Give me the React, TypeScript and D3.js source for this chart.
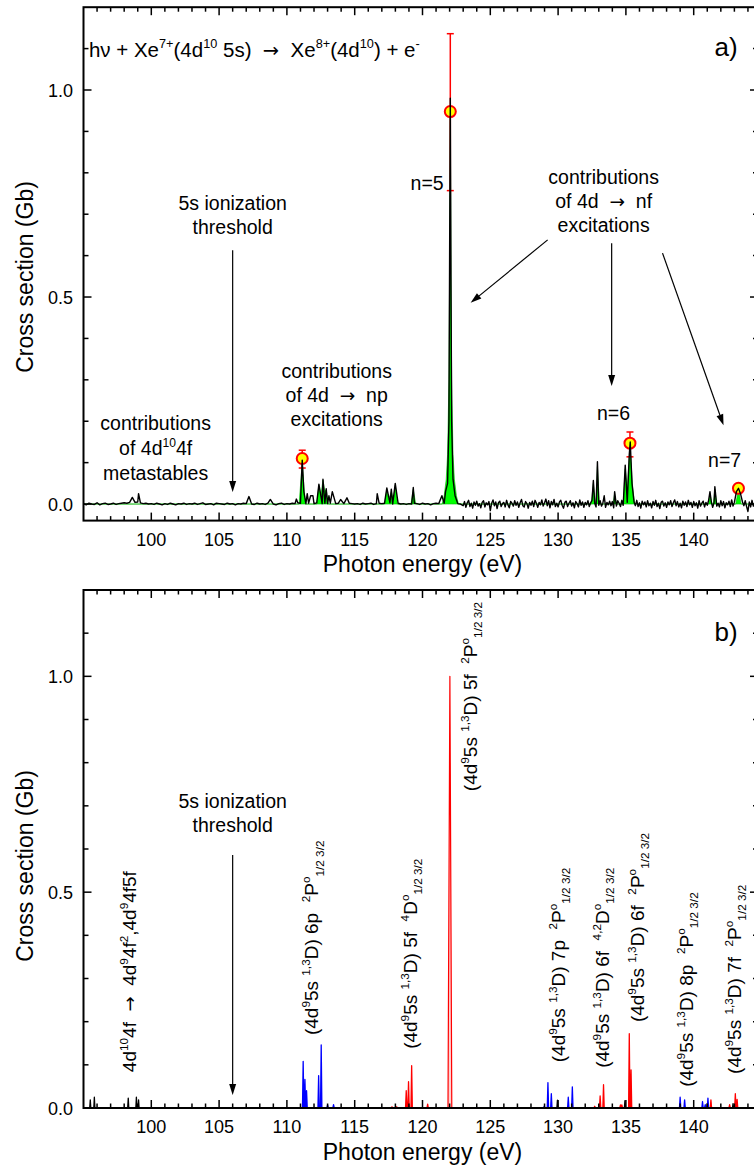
import React from "react";
import * as d3 from "d3";

const FONT = "'Liberation Sans', Arial, Helvetica, sans-serif";
const ARROW_FONT = "'DejaVu Sans', sans-serif";

// ---------------- ticks ----------------
const xMajorTickValues = [100, 105, 110, 115, 120, 125, 130, 135, 140];
const xTickLabels = ["100", "105", "110", "115", "120", "125", "130", "135", "140"];
const yMajorTickValues = [0, 0.5, 1.0];
const yTickLabels = ["0.0", "0.5", "1.0"];

// ---------------- panel a: measured spectrum ----------------
// baseline noise (mGb), 95.0 eV .. step 0.2 eV
const noiseLowStart = 95.0;
const noiseLowStep = 0.2;
const noiseLow = [
  1, -2, 2, 0, -1, 3, -2, 1, 2, -1,
  0, 2, -1, 1, 2, 3, 2, 4, 6, 4,
  5, 3, 1, 2, 0, 1, -1, 2, 0, -2,
  1, -1, 2, 0, -2, 1, 0, 2, -1, 1,
  0, 2, -1, 1, 3, -1, 0, 1, -2, 2,
  1, 0, -1, 2, 0, 1, -2, 1, 0, 2,
  1, 3, 0, -1, 2, 0, 1, -1, 2, 1,
  0, -2, 1, 2, -1, 1, 0, 2, 1, 3,
  2, 3, 1, 2, 0, 1, 3, 2, 1, 2,
  1, 2, 0, 1, 2, -1, 1, 0, 2, 1,
  0, 1, -1, 2, 0, 1, 2, -1, 1, 2,
  1, 2, 1, 3, 0, 1, 2, 0, 1, -1,
  1, 0, 2, 1, -1, 2, 0, 1, -2, 1,
  2, 1, 3, 2, 4, 5, 3, 2, 1, 0,
];
// baseline noise (mGb), 123.0 eV .. step 0.1 eV
const noiseHighStart = 123.0;
const noiseHighStep = 0.1;
const noiseHigh = [
  -4, 6, -8, 3, 9, -6, 2, -10, 5, -3,
  7, -5, 1, -9, 4, 8, -7, 3, -2, 6,
  -16, 2, 10, -4, 5, -11, 3, 7, -6, 1,
  4, -7, 9, -2, -9, 6, 2, -5, 8, -3,
  5, -8, 3, 11, -4, -7, 6, 1, -10, 4,
  -3, 7, -6, 9, 2, -8, 4, -2, 10, -5,
  3, 12, -4, 8, -9, 6, -2, 11, -6, 2,
  -7, 5, 9, -3, -10, 4, 7, -6, 2, 8,
  -5, 3, -9, 6, 1, -7, 10, -3, 5, -8,
  4, -2, 8, -6, 3, 9, -4, 2, -7, 6,
  -3, 8, -5, 2, 10, -8, 4, -2, 7, -4,
  6, -9, 3, -5, 8, 2, -6, 9, -3, 5,
  -7, 4, 2, -3, 6, -8, 5, -4, 9, -6,
  3, -10, 7, -2, 5, -7, 8, -4, 2, -9,
  6, -3, 9, -6, 2, -11, 4, 7, -5, 3,
  -8, 5, -2, 8, -6, 3, 10, -4, 6, -7,
  2, -9, 7, -3, 5, -6, 9, -2, 4, -8,
  6, -4, 3, -10, 8, -5, 2, 7, -7, 4,
  -3, 9, -6, 5, -8, 3, 11, -5, 2, -7,
  8, -4, 6, -9, 3, -2, 7, -6, 10, -5,
  4, -8, 2, 6, -3, -12, 5, -4, 8, -6,
  -18, 5, -7, 9, -5, 2, -9, 6, -4, 3,
];
// resonance peaks seen in the measured spectrum [eV, Gb]
const peaksA: [number, number][] = [
  [98.6, 0.016], [99.06, 0.025], [107.2, 0.018], [108.78, 0.011], [110.7, 0.012],
  [111.13, 0.106], [111.25, 0.03], [111.5, 0.025], [111.75, 0.02], [111.92, 0.02],
  [112.36, 0.048], [112.66, 0.06], [112.9, 0.037], [113.1, 0.02], [113.35, 0.03],
  [113.96, 0.011], [114.43, 0.015], [116.66, 0.025], [117.37, 0.039], [117.7, 0.036],
  [117.99, 0.05], [119.32, 0.04], [121.43, 0.02], [121.7, 0.03],
  [121.85, 0.05], [121.95, 0.2], [122.0, 0.6], [122.05, 0.98], [122.1, 0.55],
  [122.15, 0.2], [122.25, 0.06], [122.4, 0.02],
  [132.6, 0.057], [132.9, 0.102], [133.4, 0.02], [134.17, 0.03], [134.95, 0.094],
  [135.25, 0.12], [135.32, 0.15], [135.45, 0.05], [141.2, 0.03], [141.56, 0.042],
  [143.15, 0.03], [143.3, 0.038], [143.45, 0.025],
];
// green filled contributions [eV, Gb]
const greenA: [number, number][] = [
  [95, 0], [110.9, 0], [111.13, 0.1], [111.35, 0],
  [112.2, 0], [112.36, 0.045], [112.5, 0.02], [112.66, 0.058], [112.8, 0.03], [112.9, 0.035], [113.05, 0],
  [117.2, 0], [117.37, 0.035], [117.5, 0.01], [117.7, 0.03], [117.85, 0.01], [117.99, 0.045], [118.15, 0],
  [119.15, 0], [119.32, 0.035], [119.5, 0],
  [121.45, 0], [121.6, 0.02], [121.75, 0.06], [121.85, 0.12], [121.95, 0.3], [122.0, 0.55], [122.05, 0.95],
  [122.1, 0.55], [122.15, 0.3], [122.25, 0.12], [122.35, 0.06], [122.5, 0.02], [122.65, 0],
  [132.45, 0], [132.6, 0.05], [132.75, 0], [132.8, 0], [132.9, 0.09], [133.05, 0],
  [134.05, 0], [134.17, 0.025], [134.3, 0],
  [134.8, 0], [134.95, 0.085], [135.1, 0.03], [135.3, 0.14], [135.5, 0.04], [135.65, 0],
  [141.1, 0], [141.2, 0.025], [141.35, 0], [141.45, 0], [141.56, 0.035], [141.7, 0],
  [143.1, 0], [143.3, 0.035], [143.5, 0], [145, 0],
];
// absolute cross-section points with error bars
const markerE = [111.13, 122.05, 135.3, 143.3];
const markerV = [0.11, 0.948, 0.147, 0.038];
const markerLo = [0.087, 0.757, 0.114, 0.033];
const markerHi = [0.13, 1.136, 0.174, 0.043];

// ---------------- panel b: theory ----------------
const sticksBlack: [number, number][] = [
  [95.5, 0.019], [95.8, 0.025], [98.3, 0.023], [98.9, 0.025], [99.06, 0.019],
  [118.9, 0.006], [129.95, 0.018], [134.93, 0.017], [141.0, 0.01], [142.9, 0.01],
];
const sticksBlue: [number, number][] = [
  [111.2, 0.108], [111.33, 0.066], [111.45, 0.04], [112.34, 0.075], [112.53, 0.146],
  [113.0, 0.007], [113.44, 0.008], [128.98, 0.004], [129.25, 0.059], [129.5, 0.033],
  [130.75, 0.025], [131.05, 0.049], [139.0, 0.025], [139.33, 0.019], [140.65, 0.015],
  [140.85, 0.008], [141.05, 0.023],
];
const sticksRed: [number, number][] = [
  [117.75, 0.003], [118.1, 0.003], [118.8, 0.04], [118.97, 0.061], [119.2, 0.098],
  [120.38, 0.009], [132.7, 0.004], [133.1, 0.028], [133.35, 0.054], [134.6, 0.007],
  [134.7, 0.007], [135.25, 0.172], [135.38, 0.088], [141.27, 0.019], [142.65, 0.008],
  [143.07, 0.033], [143.2, 0.02],
];
const sticksRedBroad: [number, number][] = [[122.02, 1.0]];

// ---------------- text ----------------
type Part = [string, number];
const formulaA: Part[] = [
  ["h\u03bd + Xe", 0], ["7+", 1], ["(4d", 0], ["10", 1], [" 5s)  \u2192  Xe", 0], ["8+", 1],
  ["(4d", 0], ["10", 1], [") + e", 0], ["-", 1],
];
const lbl4f: Part[] = [["4d", 0], ["10", 1], ["4f  \u2192  4d", 0], ["9", 1], ["4f", 0], ["2", 1], [",4d", 0], ["9", 1], ["4f5f", 0]];
const mk = (orb: string, mult: string, term: string): Part[] => [
  ["(4d", 0], ["9", 1], ["5s ", 0], ["1,3", 1], ["D) " + orb + "  ", 0], [mult, 1], [term, 0], ["o", 1], ["1/2 3/2", -1],
];
const rotLabels: { parts: Part[]; e: number; v: number }[] = [
  { parts: lbl4f, e: 98.85, v: 0.083 },
  { parts: mk("6p", "2", "P"), e: 112.3, v: 0.169 },
  { parts: mk("5f", "4", "D"), e: 119.56, v: 0.137 },
  { parts: mk("5f", "2", "P"), e: 123.99, v: 0.734 },
  { parts: mk("7p", "2", "P"), e: 130.48, v: 0.106 },
  { parts: mk("6f", "4,2", "D"), e: 133.73, v: 0.093 },
  { parts: mk("6f", "2", "P"), e: 136.31, v: 0.199 },
  { parts: mk("8p", "2", "P"), e: 139.92, v: 0.049 },
  { parts: mk("7f", "2", "P"), e: 143.46, v: 0.079 },
];

// ---------------- scales ----------------
const x = d3.scaleLinear().domain([95, 145]).range([83.5, 761.5]);
const yA = d3.scaleLinear().domain([-0.04, 1.2]).range([520.6, 7.2]);
const yB = d3.scaleLinear().domain([0, 1.2]).range([1108, 590]);
const FRAME_RIGHT = 758;

function splitArrow(t: string, key: string, firstProps: any, size: number) {
  const pieces = t.split("\u2192");
  const out: any[] = [];
  pieces.forEach((p, j) => {
    if (j > 0) {
      out.push(
        <tspan key={key + "a" + j} fontFamily={ARROW_FONT} fontSize={size * 0.95}>
          {"\u2192"}
        </tspan>
      );
    }
    if (p.length) {
      out.push(
        <tspan key={key + "p" + j} {...(j === 0 ? firstProps : {})} fontSize={firstProps.fontSize}>
          {p}
        </tspan>
      );
    }
  });
  return out;
}

function Rich({ parts, size, px, py, rotate, anchor }: { parts: Part[]; size: number; px: number; py: number; rotate?: boolean; anchor?: string }) {
  let cur = 0;
  const SUP = -0.42 * size;
  const SUB = 0.3 * size;
  const small = size * 0.62;
  return (
    <text
      transform={`translate(${px},${py})${rotate ? " rotate(-90)" : ""}`}
      fontSize={size}
      fontFamily={FONT}
      textAnchor={anchor || "start"}
      style={{ whiteSpace: "pre" }}
      fill="#000"
    >
      {parts.map(([t, l], i) => {
        const target = l === 1 ? SUP : l === -1 ? SUB : 0;
        const dy = target - cur;
        cur = target;
        return splitArrow(t, "k" + i, { dy, fontSize: l ? small : size }, size);
      })}
    </text>
  );
}

function Arrow({ x1, y1, x2, y2 }: { x1: number; y1: number; x2: number; y2: number }) {
  const ang = Math.atan2(y2 - y1, x2 - x1);
  const L = 11, Wd = 3.5;
  const bx = x2 - L * Math.cos(ang), by = y2 - L * Math.sin(ang);
  const p1 = [bx + Wd * Math.sin(ang), by - Wd * Math.cos(ang)];
  const p2 = [bx - Wd * Math.sin(ang), by + Wd * Math.cos(ang)];
  return (
    <g>
      <line x1={x1} y1={y1} x2={bx} y2={by} stroke="#000" strokeWidth={1.2} />
      <polygon points={`${x2},${y2} ${p1[0]},${p1[1]} ${p2[0]},${p2[1]}`} fill="#000" />
    </g>
  );
}

function Frame({ y }: { y: d3.ScaleLinear<number, number> }) {
  const [yb, yt] = y.range();
  const left = x(95);
  const xTicks = d3.range(95, 146, 1).filter((e) => x(e) < FRAME_RIGHT - 1 && e > 95);
  const yTicks = d3.range(0, 12.5, 1).map((k) => k / 10).filter((v) => y(v) < yb - 1 && y(v) > yt + 1);
  return (
    <g stroke="#000" fill="none">
      <rect x={left} y={yt} width={FRAME_RIGHT - left} height={yb - yt} strokeWidth={2} />
      {xTicks.map((e) => {
        const major = e % 5 === 0;
        const len = major ? 8 : 4.5;
        return (
          <g key={e}>
            <line x1={x(e)} x2={x(e)} y1={yb} y2={yb - len} strokeWidth={1.5} />
            <line x1={x(e)} x2={x(e)} y1={yt} y2={yt + len} strokeWidth={1.5} />
          </g>
        );
      })}
      {yTicks.map((v) => {
        const major = Math.abs(v * 2 - Math.round(v * 2)) < 1e-6;
        const len = major ? 8 : 5;
        return (
          <g key={v}>
            <line x1={left} x2={left + len} y1={y(v)} y2={y(v)} strokeWidth={1.5} />
            <line x1={FRAME_RIGHT} x2={FRAME_RIGHT - len} y1={y(v)} y2={y(v)} strokeWidth={1.5} />
          </g>
        );
      })}
    </g>
  );
}

function AxisText({ y, titleY, yTitleCenter }: { y: d3.ScaleLinear<number, number>; titleY: number; yTitleCenter: number }) {
  const yb = y.range()[0];
  return (
    <g fontFamily={FONT} fill="#000">
      {xMajorTickValues.map((e, i) => (
        <text key={e} x={x(e)} y={yb + 25} fontSize={18} textAnchor="middle">
          {xTickLabels[i]}
        </text>
      ))}
      {yMajorTickValues.map((v, i) => (
        <text key={v} x={73} y={y(v) + 6.5} fontSize={18} textAnchor="end">
          {yTickLabels[i]}
        </text>
      ))}
      <text x={(x(95) + x(145)) / 2} y={titleY} fontSize={23} textAnchor="middle">
        Photon energy (eV)
      </text>
      <text transform={`translate(33,${yTitleCenter}) rotate(-90)`} fontSize={23} textAnchor="middle">
        Cross section (Gb)
      </text>
    </g>
  );
}

function stickPath(data: [number, number][], y: d3.ScaleLinear<number, number>, hw: number) {
  return data
    .map(([e, h]) => `M${x(e - hw)},${y(0)}L${x(e)},${y(h)}L${x(e + hw)},${y(0)}Z`)
    .join("");
}

export default function App() {
  const lowPts: [number, number][] = noiseLow.map((v, i) => [noiseLowStart + i * noiseLowStep, v / 1000]);
  const highPts: [number, number][] = noiseHigh.map((v, i) => [noiseHighStart + i * noiseHighStep, v / 1000]);
  const basePts = [...lowPts, ...highPts].filter(([e]) => !peaksA.some(([pe]) => Math.abs(pe - e) < 0.06));
  const linePts = [...basePts, ...peaksA].sort((a, b) => a[0] - b[0]);

  const line = d3.line<[number, number]>().x((d) => x(d[0])).y((d) => yA(d[1]));
  const area = d3.area<[number, number]>().x((d) => x(d[0])).y0(yA(0)).y1((d) => yA(d[1]));

  return (
    <svg width={754} height={1171} style={{ position: "absolute", left: 0, top: 0, background: "#fff" }}>
      <rect width={754} height={1171} fill="#fff" />
      {/* ================= panel a ================= */}
      <path d={area(greenA) || ""} fill="#00ff00" stroke="#00b000" strokeWidth={0.6} />
      {markerE.map((e, i) => (
        <g key={"eb" + i} stroke="#ff0000" strokeWidth={1.5}>
          <line x1={x(e)} x2={x(e)} y1={yA(markerLo[i])} y2={yA(markerHi[i])} />
          <line x1={x(e) - 3.5} x2={x(e) + 3.5} y1={yA(markerLo[i])} y2={yA(markerLo[i])} />
          <line x1={x(e) - 3.5} x2={x(e) + 3.5} y1={yA(markerHi[i])} y2={yA(markerHi[i])} />
        </g>
      ))}
      {markerE.map((e, i) => (
        <circle key={"mk" + i} cx={x(e)} cy={yA(markerV[i])} r={5.5} fill="#ffff00" stroke="#ff0000" strokeWidth={2} />
      ))}
      <path d={line(linePts) || ""} fill="none" stroke="#000" strokeWidth={1.4} strokeLinejoin="round" />
      <Frame y={yA} />
      <AxisText y={yA} titleY={572} yTitleCenter={277} />

      <g fontFamily={FONT} fontSize={19.5} fill="#000">
        <Rich parts={formulaA} size={20.5} px={x(95.4)} py={yA(1.08)} />
        <text x={x(143.24)} y={yA(1.082)} fontSize={26} textAnchor="end">a)</text>
        <text x={x(121.56)} y={yA(0.758)} textAnchor="end">n=5</text>
        <text x={x(133.36)} y={yA(0.773)} textAnchor="middle">contributions</text>
        <Rich parts={[["of 4d  \u2192  nf", 0]]} size={19.5} px={x(133.36)} py={yA(0.715)} anchor="middle" />
        <text x={x(133.36)} y={yA(0.657)} textAnchor="middle">excitations</text>
        <text x={x(106)} y={yA(0.71)} textAnchor="middle">5s ionization</text>
        <text x={x(106)} y={yA(0.652)} textAnchor="middle">threshold</text>
        <text x={x(113.67)} y={yA(0.304)} textAnchor="middle">contributions</text>
        <Rich parts={[["of 4d  \u2192  np", 0]]} size={19.5} px={x(113.67)} py={yA(0.246)} anchor="middle" />
        <text x={x(113.67)} y={yA(0.188)} textAnchor="middle">excitations</text>
        <text x={x(100.32)} y={yA(0.179)} textAnchor="middle">contributions</text>
        <Rich parts={[["of 4d", 0], ["10", 1], ["4f", 0]]} size={19.5} px={x(100.32)} py={yA(0.118)} anchor="middle" />
        <text x={x(100.32)} y={yA(0.058)} textAnchor="middle">metastables</text>
        <text x={x(134.09)} y={yA(0.203)} textAnchor="middle">n=6</text>
        <text x={x(142.28)} y={yA(0.089)} textAnchor="middle">n=7</text>
      </g>
      <Arrow x1={x(106)} y1={yA(0.613)} x2={x(106)} y2={yA(0.029)} />
      <Arrow x1={x(129.23)} y1={yA(0.638)} x2={x(123.55)} y2={yA(0.486)} />
      <Arrow x1={x(133.95)} y1={yA(0.63)} x2={x(133.95)} y2={yA(0.285)} />
      <Arrow x1={x(137.7)} y1={yA(0.606)} x2={x(142.2)} y2={yA(0.19)} />

      {/* ================= panel b ================= */}
      <path d={stickPath(sticksBlack, yB, 0.04)} fill="#333" stroke="#000" strokeWidth={1.3} strokeLinejoin="round" />
      <path d={stickPath(sticksBlue, yB, 0.05)} fill="#66ccff" stroke="#0000ff" strokeWidth={1.3} strokeLinejoin="round" />
      <path d={stickPath(sticksRed, yB, 0.05)} fill="#ff9999" stroke="#ff0000" strokeWidth={1.3} strokeLinejoin="round" />
      <path d={stickPath(sticksRedBroad, yB, 0.14)} fill="#ffd0d0" stroke="#ff0000" strokeWidth={1.2} strokeLinejoin="round" />
      <Frame y={yB} />
      <AxisText y={yB} titleY={1160} yTitleCenter={866} />
      <g fontFamily={FONT} fontSize={19.5} fill="#000">
        <text x={x(143.24)} y={yB(1.081)} fontSize={26} textAnchor="end">b)</text>
        <text x={x(106)} y={yB(0.694)} textAnchor="middle">5s ionization</text>
        <text x={x(106)} y={yB(0.639)} textAnchor="middle">threshold</text>
        {rotLabels.map((l, i) => (
          <Rich key={i} parts={l.parts} size={19} px={x(l.e)} py={yB(l.v)} rotate />
        ))}
      </g>
      <Arrow x1={x(106)} y1={yB(0.586)} x2={x(106)} y2={yB(0.03)} />
    </svg>
  );
}
